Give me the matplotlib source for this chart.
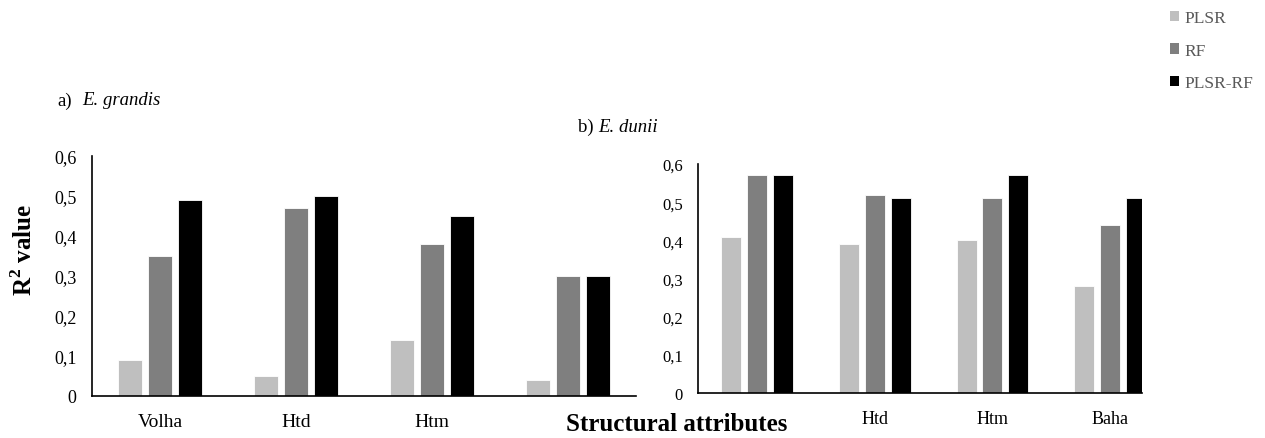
import numpy as np
import matplotlib
matplotlib.use('Agg')
import matplotlib.pyplot as plt
from matplotlib.patches import Patch

plt.rcParams['font.family'] = ['Liberation Serif', 'DejaVu Serif']

# Datos
modelos = ['PLSR', 'RF', 'PLSR-RF']
colores = ['#bfbfbf', '#7f7f7f', '#000000']

cat_grandis = ['Volha', 'Htd', 'Htm', '']
plsr_grandis = [0.09, 0.05, 0.14, 0.04]
rf_grandis = [0.35, 0.47, 0.38, 0.30]
plsrrf_grandis = [0.49, 0.50, 0.45, 0.30]

cat_dunii = ['', 'Htd', 'Htm', 'Baha']
plsr_dunii = [0.41, 0.39, 0.40, 0.28]
rf_dunii = [0.57, 0.52, 0.51, 0.44]
plsrrf_dunii = [0.57, 0.51, 0.57, 0.51]

yticks = [0, 0.1, 0.2, 0.3, 0.4, 0.5, 0.6]
ytick_labels = ['0', '0,1', '0,2', '0,3', '0,4', '0,5', '0,6']

fig = plt.figure(figsize=(12.65, 4.39), dpi=100)
ax1 = fig.add_axes([0.0727, 0.0957, 0.4300, 0.5467])
ax2 = fig.add_axes([0.5518, 0.1025, 0.3510, 0.5216])


def dibujar(ax, cats, series, ancho, paso, fs_tick, fs_cat, xmax):
    x = np.arange(len(cats))
    for i, (vals, col) in enumerate(zip(series, colores)):
        ax.bar(x + (i - 1) * paso, vals, width=ancho, color=col, edgecolor='white', linewidth=0.6)
    ax.set_xlim(-0.5, xmax)
    ax.set_ylim(0, 0.6)
    ax.set_yticks(yticks)
    ax.set_yticklabels(ytick_labels, fontsize=fs_tick)
    ax.set_xticks(x)
    ax.set_xticklabels(cats, fontsize=fs_cat)
    ax.tick_params(axis='x', length=0, pad=12)
    ax.tick_params(axis='y', length=0, pad=11)
    for s in ['top', 'right']:
        ax.spines[s].set_visible(False)
    for s in ['left', 'bottom']:
        ax.spines[s].set_linewidth(1.2)


dibujar(ax1, cat_grandis, [plsr_grandis, rf_grandis, plsrrf_grandis], 0.176, 0.22, 13, 14, 3.5)
dibujar(ax2, cat_dunii, [plsr_dunii, rf_dunii, plsrrf_dunii], 0.17, 0.22, 12, 13, 3.27)

fig.text(0.045, 0.77, 'a)', fontsize=13.5, ha='left', va='center')
fig.text(0.065, 0.77, 'E. grandis', fontsize=13.5, style='italic', ha='left', va='center')
fig.text(0.457, 0.71, 'b)', fontsize=13.5, ha='left', va='center')
fig.text(0.473, 0.71, 'E. dunii', fontsize=13.5, style='italic', ha='left', va='center')

fig.text(0.019, 0.43, 'R$^{\\mathregular{2}}$ value', fontsize=18, fontweight='bold',
         rotation=90, ha='center', va='center')
fig.text(0.535, 0.034, 'Structural attributes', fontsize=18, fontweight='bold',
         ha='center', va='center')

handles = [Patch(facecolor=c, edgecolor='none') for c in colores]
leg = fig.legend(handles, modelos, loc='upper right', bbox_to_anchor=(1.003, 1.01),
                 frameon=False, fontsize=12.5, handlelength=0.55, handleheight=0.55,
                 handletextpad=0.3, labelspacing=0.95)
for t in leg.get_texts():
    t.set_color('#595959')

fig.savefig('out.png', dpi=100)
